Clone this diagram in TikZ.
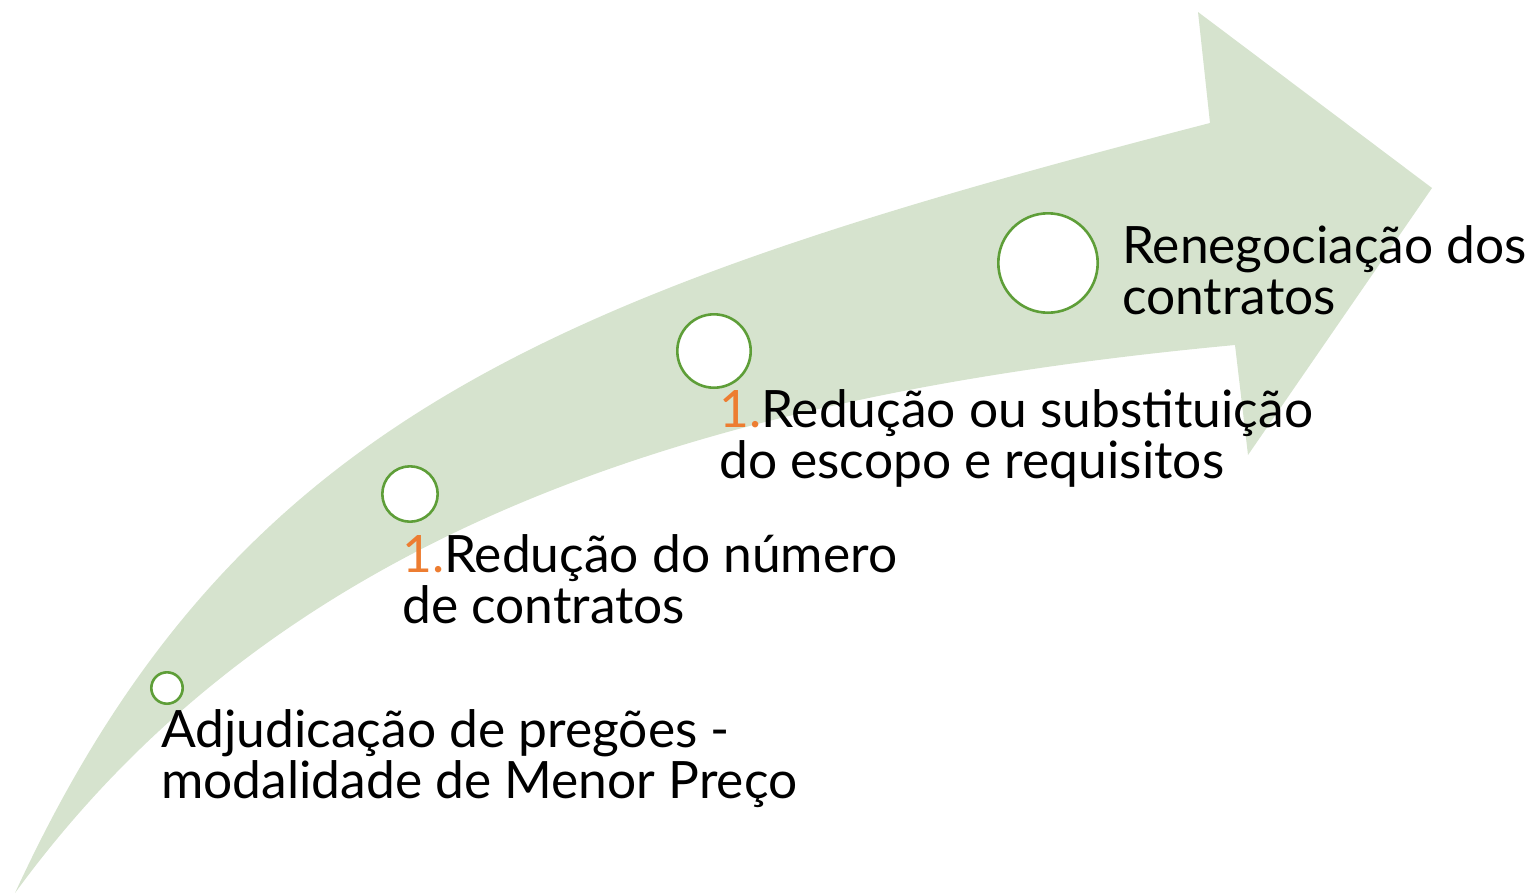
\documentclass[tikz,border=0pt]{standalone}
\usepackage{fontspec}
\setmainfont{Lato}
\definecolor{arrowfill}{HTML}{D6E3CE}
\definecolor{ringgreen}{HTML}{5E9E38}
\definecolor{numorange}{HTML}{ED7D31}
\begin{document}
\begin{tikzpicture}[x=1pt,y=-1pt,
  stepcircle/.style={circle, draw=ringgreen, line width=2.6pt, fill=white, inner sep=0pt},
  steptext/.style={anchor=base west, align=left, inner sep=0pt, font=\fontsize{51.5}{51}\selectfont, text=black}]
\useasboundingbox (0,0) rectangle (1540,895);
\fill[arrowfill] (15,893) .. controls (233,420) and (552,293) .. (1210,123)
  -- (1198,12) -- (1432,188) -- (1248,455) -- (1235,345)
  .. controls (700,395) and (280,530) .. (15,893) -- cycle;
\node[stepcircle, minimum size=31.4pt] (c1) at (167,688) {};
\node[stepcircle, minimum size=55.4pt] (c2) at (410,494) {};
\node[stepcircle, minimum size=73.4pt] (c3) at (714,351) {};
\node[stepcircle, minimum size=99.4pt] (c4) at (1048,263) {};
\node[steptext] (t1) at (161,798) {Adjudicação de pregões -\\modalidade de Menor Preço};
\node[steptext] (t2) at (402,623) {\textcolor{numorange}{1.}Redução do número\\de contratos};
\node[steptext] (t3) at (719,478) {\textcolor{numorange}{1.}Redução ou substituição\\do escopo e requisitos};
\node[steptext] (t4) at (1122,314) {Renegociação dos\\contratos};
\end{tikzpicture}
\end{document}
